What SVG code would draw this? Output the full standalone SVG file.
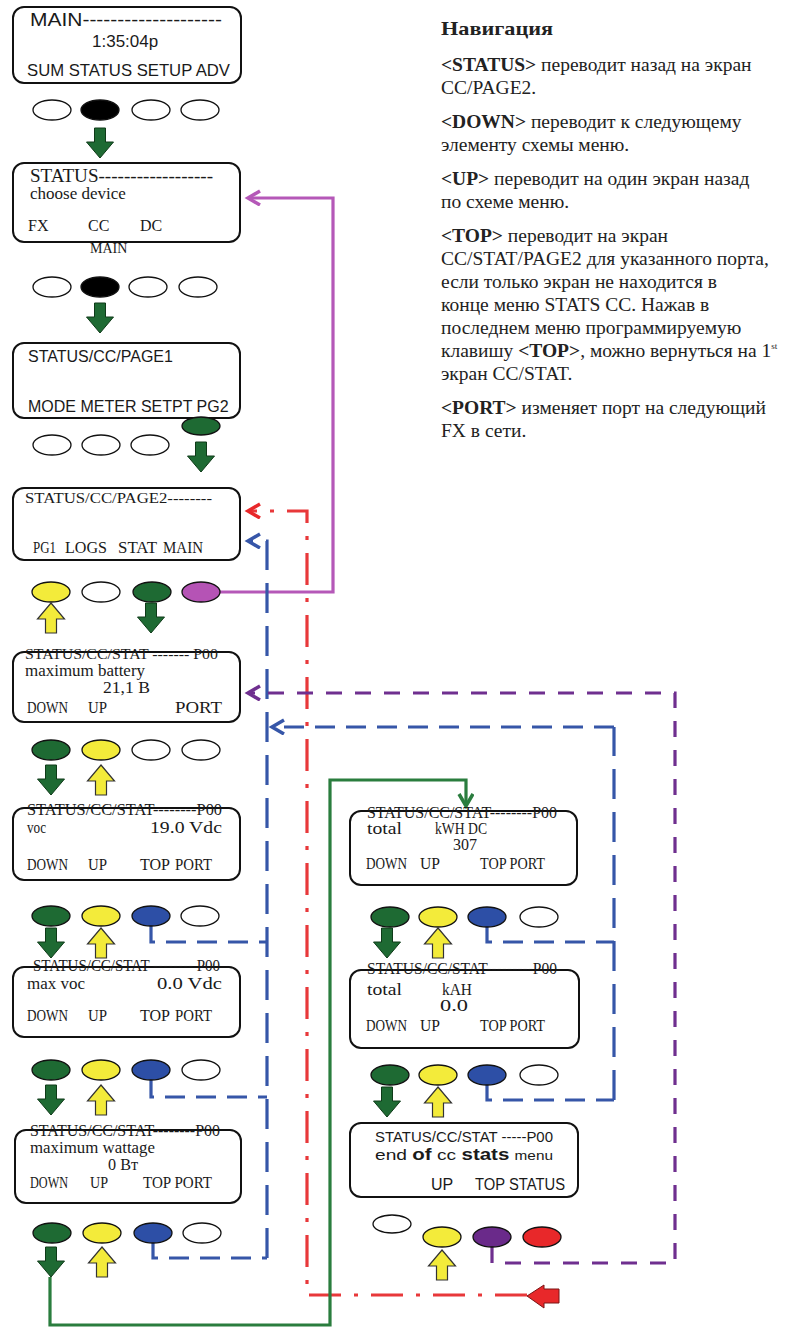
<svg xmlns="http://www.w3.org/2000/svg" xmlns:xlink="http://www.w3.org/1999/xlink" width="788" height="1332" viewBox="0 0 788 1332">
<style>
.box{fill:#fff;stroke:#111;stroke-width:2}
.sans{font-family:"Liberation Sans",Arial,sans-serif;fill:#1a1a1a}
.serif{font-family:"Liberation Serif","Times New Roman",serif;fill:#1a1a1a}
.k{stroke:#111;stroke-width:1.3}
.kw{fill:#fff}
.kb{fill:#000}
.kg{fill:#1e6a33}
.ky{fill:#f3eb3a}
.kbl{fill:#2d4fa6}
.kp{fill:#b553b5}
.kv{fill:#6a2a8a}
.kr{fill:#e8282a}
.ag{fill:#1e6a33;stroke:#0e3a18;stroke-width:1}
.ay{fill:#f3eb3a;stroke:#333;stroke-width:1.2}
.c{fill:none;stroke-width:3.2}
.c-pink{stroke:#b558b8}
.c-red{stroke:#e8383a;stroke-dasharray:32 13 4 13}
.c-blue{stroke:#3656a8;stroke-dasharray:20 11}
.c-bluev{stroke:#3656a8;stroke-dasharray:30 13}
.c-purple{stroke:#6f2f8f;stroke-dasharray:16 13}
.c-green{stroke:#2a7d3e}
.nav{font-family:"Liberation Serif","Times New Roman",serif;font-size:19.5px;fill:#222}
.b{font-weight:bold}
</style>
<defs>
<path id="dn" d="M-5.5,0 H5.5 V14 H13.5 L0,30 L-13.5,14 H-5.5 Z"/>
<path id="up" d="M0,0 L13.5,16 H5.5 V30 H-5.5 V16 H-13.5 Z"/>
<marker id="m-pink" markerUnits="userSpaceOnUse" markerWidth="20" markerHeight="20" refX="13" refY="8" orient="auto"><path d="M1,1 L13,8 L1,15" fill="none" stroke="#b558b8" stroke-width="3.5"/></marker>
<marker id="m-red" markerUnits="userSpaceOnUse" markerWidth="20" markerHeight="20" refX="13" refY="8" orient="auto"><path d="M1,1 L13,8 L1,15" fill="none" stroke="#e8282a" stroke-width="3.5"/></marker>
<marker id="m-blue" markerUnits="userSpaceOnUse" markerWidth="20" markerHeight="20" refX="13" refY="8" orient="auto"><path d="M1,1 L13,8 L1,15" fill="none" stroke="#3656a8" stroke-width="3.5"/></marker>
<marker id="m-purple" markerUnits="userSpaceOnUse" markerWidth="20" markerHeight="20" refX="13" refY="8" orient="auto"><path d="M1,1 L13,8 L1,15" fill="none" stroke="#6f2f8f" stroke-width="3.5"/></marker>
<marker id="m-green" markerUnits="userSpaceOnUse" markerWidth="20" markerHeight="20" refX="13" refY="8" orient="auto"><path d="M1,1 L13,8 L1,15" fill="none" stroke="#2a7d3e" stroke-width="3.5"/></marker>
</defs>
<rect width="788" height="1332" fill="#fff"/>

<g id="connectors">
<path class="c c-pink" d="M220,592 H333 V198 H248" marker-end="url(#m-pink)"/>
<path class="c c-red" d="M527,1295 H307 V511 H248" marker-end="url(#m-red)"/>
<polygon points="527,1296 544,1285 544,1289 559,1289 559,1303 544,1303 544,1308" fill="#e8282a" stroke="#7a1414" stroke-width="1"/>
<path class="c c-bluev" d="M267,1258 V541 H248" marker-end="url(#m-blue)"/>
<path class="c c-blue" d="M153,1243 V1258 H267"/>
<path class="c c-blue" d="M151,926 V942 H267"/>
<path class="c c-blue" d="M151,1080 V1097 H267"/>
<path class="c c-blue" d="M487,1085 V1100 H614"/>
<path class="c c-bluev" d="M614,1100 V727"/>
<path class="c c-blue" d="M614,727 H272" marker-end="url(#m-blue)"/>
<path class="c c-blue" d="M487,927 V942 H614"/>
<path class="c c-purple" d="M492,1247 V1263 H675 V693 H248" marker-end="url(#m-purple)"/>
<path class="c c-green" d="M50,1277 V1325 H330 V780 H466 V806" marker-end="url(#m-green)"/>
</g>

<g id="scr-main">
<rect class="box" x="13" y="7" width="228" height="76" rx="11"/>
<text class="sans" x="30" y="26" font-size="19" textLength="192" lengthAdjust="spacingAndGlyphs">MAIN--------------------</text>
<text class="sans" x="92" y="47" font-size="17">1:35:04p</text>
<text class="sans" x="27" y="76" font-size="17" textLength="203" lengthAdjust="spacingAndGlyphs">SUM STATUS SETUP ADV</text>
</g>
<g id="keys-main">
<ellipse class="k kw" cx="52" cy="110" rx="19" ry="10"/>
<ellipse class="k kb" cx="100" cy="110" rx="19" ry="10"/>
<ellipse class="k kw" cx="151" cy="110" rx="19" ry="10"/>
<ellipse class="k kw" cx="200" cy="110" rx="19" ry="10"/>
<use href="#dn" x="100" y="128" class="ag"/>
</g>

<g id="scr-status">
<rect class="box" x="13" y="163" width="227" height="79" rx="11"/>
<text class="serif" x="30" y="182" font-size="19" textLength="183" lengthAdjust="spacingAndGlyphs">STATUS------------------</text>
<text class="serif" x="30" y="199" font-size="17">choose device</text>
<text class="serif" x="28" y="231" font-size="16">FX</text>
<text class="serif" x="88" y="231" font-size="16">CC</text>
<text class="serif" x="140" y="231" font-size="16">DC</text>
<text class="serif" x="90" y="253" font-size="14">MAIN</text>
</g>
<g id="keys-status">
<ellipse class="k kw" cx="52" cy="287" rx="19" ry="10"/>
<ellipse class="k kb" cx="100" cy="287" rx="19" ry="10"/>
<ellipse class="k kw" cx="148" cy="287" rx="19" ry="10"/>
<ellipse class="k kw" cx="198" cy="287" rx="19" ry="10"/>
<use href="#dn" x="100" y="303" class="ag"/>
</g>

<g id="scr-page1">
<rect class="box" x="13" y="343" width="227" height="75" rx="11"/>
<text class="sans" x="28" y="362" font-size="16">STATUS/CC/PAGE1</text>
<text class="sans" x="28" y="412" font-size="16">MODE METER SETPT PG2</text>
</g>
<g id="keys-page1">
<ellipse class="k kg" cx="201" cy="426" rx="19" ry="9"/>
<ellipse class="k kw" cx="52" cy="445" rx="19" ry="10"/>
<ellipse class="k kw" cx="101" cy="445" rx="19" ry="10"/>
<ellipse class="k kw" cx="150" cy="445" rx="19" ry="10"/>
<use href="#dn" x="201" y="442" class="ag"/>
</g>

<g id="scr-page2">
<rect class="box" x="13" y="488" width="227" height="72" rx="11"/>
<text class="serif" x="25" y="503" font-size="15" textLength="187" lengthAdjust="spacingAndGlyphs">STATUS/CC/PAGE2--------</text>
<text class="serif" x="33" y="553" font-size="17" textLength="23" lengthAdjust="spacingAndGlyphs">PG1</text>
<text class="serif" x="65" y="553" font-size="17" textLength="42" lengthAdjust="spacingAndGlyphs">LOGS</text>
<text class="serif" x="118" y="553" font-size="17" textLength="39" lengthAdjust="spacingAndGlyphs">STAT</text>
<text class="serif" x="163" y="553" font-size="17" textLength="40" lengthAdjust="spacingAndGlyphs">MAIN</text>
</g>
<g id="keys-page2">
<ellipse class="k ky" cx="51" cy="592" rx="19" ry="10"/>
<ellipse class="k kw" cx="101" cy="592" rx="19" ry="10"/>
<ellipse class="k kg" cx="152" cy="592" rx="19" ry="10"/>
<ellipse class="k kp" cx="201" cy="592" rx="19" ry="10"/>
<use href="#up" x="51" y="603" class="ay"/>
<use href="#dn" x="151" y="603" class="ag"/>
</g>

<g id="scr-maxbat">
<rect class="box" x="13" y="652" width="227" height="70" rx="11"/>
<text class="serif" x="25" y="659" font-size="15" textLength="193" lengthAdjust="spacingAndGlyphs">STATUS/CC/STAT ------- P00</text>
<text class="serif" x="25" y="676" font-size="17" textLength="120" lengthAdjust="spacingAndGlyphs">maximum battery</text>
<text class="serif" x="103" y="693" font-size="17" textLength="47" lengthAdjust="spacingAndGlyphs">21,1 В</text>
<text class="serif" x="27" y="713" font-size="17" textLength="41" lengthAdjust="spacingAndGlyphs">DOWN</text>
<text class="serif" x="88" y="713" font-size="17" textLength="19" lengthAdjust="spacingAndGlyphs">UP</text>
<text class="serif" x="175" y="713" font-size="17" textLength="47" lengthAdjust="spacingAndGlyphs">PORT</text>
</g>
<g id="keys-maxbat">
<ellipse class="k kg" cx="51" cy="750" rx="19" ry="10"/>
<ellipse class="k ky" cx="101" cy="750" rx="19" ry="10"/>
<ellipse class="k kw" cx="151" cy="750" rx="19" ry="10"/>
<ellipse class="k kw" cx="201" cy="750" rx="19" ry="10"/>
<use href="#dn" x="51" y="765" class="ag"/>
<use href="#up" x="101" y="765" class="ay"/>
</g>

<g id="scr-voc">
<rect class="box" x="13" y="808" width="227" height="72" rx="11"/>
<text class="serif" x="27" y="815" font-size="16" textLength="195" lengthAdjust="spacingAndGlyphs">STATUS/CC/STAT--------P00</text>
<text class="serif" x="27" y="833" font-size="17" textLength="19" lengthAdjust="spacingAndGlyphs">voc</text>
<text class="serif" x="150" y="833" font-size="17" textLength="72" lengthAdjust="spacingAndGlyphs">19.0  Vdc</text>
<text class="serif" x="27" y="870" font-size="17" textLength="41" lengthAdjust="spacingAndGlyphs">DOWN</text>
<text class="serif" x="88" y="870" font-size="17" textLength="19" lengthAdjust="spacingAndGlyphs">UP</text>
<text class="serif" x="140" y="870" font-size="17" textLength="30" lengthAdjust="spacingAndGlyphs">TOP</text>
<text class="serif" x="175" y="870" font-size="17" textLength="37" lengthAdjust="spacingAndGlyphs">PORT</text>
</g>
<g id="keys-voc">
<ellipse class="k kg" cx="51" cy="916" rx="19" ry="10"/>
<ellipse class="k ky" cx="101" cy="916" rx="19" ry="10"/>
<ellipse class="k kbl" cx="151" cy="916" rx="19" ry="10"/>
<ellipse class="k kw" cx="200" cy="916" rx="19" ry="10"/>
<use href="#dn" x="51" y="928" class="ag"/>
<use href="#up" x="101" y="928" class="ay"/>
</g>

<g id="scr-maxvoc">
<rect class="box" x="13" y="967" width="227" height="70" rx="11"/>
<text class="serif" x="33" y="971" font-size="16" textLength="187" lengthAdjust="spacingAndGlyphs">STATUS/CC/STAT -------- P00</text>
<text class="serif" x="27" y="989" font-size="17" textLength="58" lengthAdjust="spacingAndGlyphs">max voc</text>
<text class="serif" x="157" y="989" font-size="17" textLength="65" lengthAdjust="spacingAndGlyphs">0.0  Vdc</text>
<text class="serif" x="27" y="1021" font-size="17" textLength="41" lengthAdjust="spacingAndGlyphs">DOWN</text>
<text class="serif" x="88" y="1021" font-size="17" textLength="19" lengthAdjust="spacingAndGlyphs">UP</text>
<text class="serif" x="140" y="1021" font-size="17" textLength="30" lengthAdjust="spacingAndGlyphs">TOP</text>
<text class="serif" x="175" y="1021" font-size="17" textLength="37" lengthAdjust="spacingAndGlyphs">PORT</text>
</g>
<g id="keys-maxvoc">
<ellipse class="k kg" cx="51" cy="1070" rx="19" ry="10"/>
<ellipse class="k ky" cx="101" cy="1070" rx="19" ry="10"/>
<ellipse class="k kbl" cx="151" cy="1070" rx="19" ry="10"/>
<ellipse class="k kw" cx="201" cy="1070" rx="19" ry="10"/>
<use href="#dn" x="51" y="1085" class="ag"/>
<use href="#up" x="101" y="1085" class="ay"/>
</g>

<g id="scr-maxwatt">
<rect class="box" x="15" y="1130" width="226" height="73" rx="11"/>
<text class="serif" x="30" y="1136" font-size="16" textLength="190" lengthAdjust="spacingAndGlyphs">STATUS/CC/STAT--------P00</text>
<text class="serif" x="30" y="1153" font-size="17" textLength="125" lengthAdjust="spacingAndGlyphs">maximum wattage</text>
<text class="serif" x="108" y="1170" font-size="17" textLength="30" lengthAdjust="spacingAndGlyphs">0 Вт</text>
<text class="serif" x="30" y="1188" font-size="17" textLength="38" lengthAdjust="spacingAndGlyphs">DOWN</text>
<text class="serif" x="90" y="1188" font-size="17" textLength="18" lengthAdjust="spacingAndGlyphs">UP</text>
<text class="serif" x="143" y="1188" font-size="17" textLength="69" lengthAdjust="spacingAndGlyphs">TOP PORT</text>
</g>
<g id="keys-maxwatt">
<ellipse class="k kg" cx="52" cy="1233" rx="19" ry="10"/>
<ellipse class="k ky" cx="102" cy="1233" rx="19" ry="10"/>
<ellipse class="k kbl" cx="153" cy="1233" rx="19" ry="10"/>
<ellipse class="k kw" cx="202" cy="1233" rx="19" ry="10"/>
<use href="#dn" x="51" y="1247" class="ag"/>
<use href="#up" x="102" y="1247" class="ay"/>
</g>

<g id="scr-kwh">
<rect class="box" x="350" y="811" width="227" height="74" rx="11"/>
<text class="serif" x="367" y="818" font-size="16" textLength="190" lengthAdjust="spacingAndGlyphs">STATUS/CC/STAT--------P00</text>
<text class="serif" x="367" y="834" font-size="17" textLength="35" lengthAdjust="spacingAndGlyphs">total</text>
<text class="serif" x="435" y="834" font-size="16" textLength="52" lengthAdjust="spacingAndGlyphs">kWH DC</text>
<text class="serif" x="453" y="850" font-size="16" textLength="24" lengthAdjust="spacingAndGlyphs">307</text>
<text class="serif" x="366" y="869" font-size="17" textLength="41" lengthAdjust="spacingAndGlyphs">DOWN</text>
<text class="serif" x="420" y="869" font-size="17" textLength="20" lengthAdjust="spacingAndGlyphs">UP</text>
<text class="serif" x="480" y="869" font-size="17" textLength="65" lengthAdjust="spacingAndGlyphs">TOP PORT</text>
</g>
<g id="keys-kwh">
<ellipse class="k kg" cx="390" cy="917" rx="19" ry="10"/>
<ellipse class="k ky" cx="438" cy="917" rx="19" ry="10"/>
<ellipse class="k kbl" cx="487" cy="917" rx="19" ry="10"/>
<ellipse class="k kw" cx="539" cy="917" rx="19" ry="10"/>
<use href="#dn" x="387" y="928" class="ag"/>
<use href="#up" x="438" y="928" class="ay"/>
</g>

<g id="scr-kah">
<rect class="box" x="350" y="970" width="229" height="78" rx="11"/>
<text class="serif" x="367" y="974" font-size="16" textLength="190" lengthAdjust="spacingAndGlyphs">STATUS/CC/STAT---------P00</text>
<text class="serif" x="367" y="995" font-size="17" textLength="35" lengthAdjust="spacingAndGlyphs">total</text>
<text class="serif" x="442" y="995" font-size="16" textLength="30" lengthAdjust="spacingAndGlyphs">kAH</text>
<text class="serif" x="440" y="1011" font-size="17" textLength="28" lengthAdjust="spacingAndGlyphs">0.0</text>
<text class="serif" x="366" y="1031" font-size="17" textLength="41" lengthAdjust="spacingAndGlyphs">DOWN</text>
<text class="serif" x="420" y="1031" font-size="17" textLength="20" lengthAdjust="spacingAndGlyphs">UP</text>
<text class="serif" x="480" y="1031" font-size="17" textLength="65" lengthAdjust="spacingAndGlyphs">TOP PORT</text>
</g>
<g id="keys-kah">
<ellipse class="k kg" cx="390" cy="1075" rx="19" ry="10"/>
<ellipse class="k ky" cx="438" cy="1075" rx="19" ry="10"/>
<ellipse class="k kbl" cx="487" cy="1075" rx="19" ry="10"/>
<ellipse class="k kw" cx="539" cy="1075" rx="19" ry="10"/>
<use href="#dn" x="387" y="1087" class="ag"/>
<use href="#up" x="438" y="1087" class="ay"/>
</g>

<g id="scr-end">
<rect class="box" x="350" y="1123" width="228" height="74" rx="11"/>
<text class="sans" x="375" y="1142" font-size="15" textLength="178" lengthAdjust="spacingAndGlyphs">STATUS/CC/STAT -----P00</text>
<text class="sans" x="375" y="1160" font-size="15" textLength="178" lengthAdjust="spacingAndGlyphs">end <tspan font-weight="bold" font-size="16">of</tspan> cc <tspan font-weight="bold" font-size="16">stats</tspan> <tspan font-size="12">menu</tspan></text>
<text class="sans" x="431" y="1190" font-size="16">UP</text>
<text class="sans" x="475" y="1190" font-size="16" textLength="90" lengthAdjust="spacingAndGlyphs">TOP STATUS</text>
</g>
<g id="keys-end">
<ellipse class="k kw" cx="392" cy="1224" rx="19" ry="9"/>
<ellipse class="k ky" cx="442" cy="1237" rx="19" ry="10"/>
<ellipse class="k kv" cx="492" cy="1237" rx="19" ry="10"/>
<ellipse class="k kr" cx="542" cy="1237" rx="19" ry="10"/>
<use href="#up" x="442" y="1250" class="ay"/>
</g>

<g id="navigation-text">
<text class="nav b" x="441" y="35" font-size="22" textLength="112" lengthAdjust="spacingAndGlyphs">Навигация</text>
<text class="nav" x="441" y="71"><tspan class="b">&lt;STATUS&gt;</tspan> переводит назад на экран</text>
<text class="nav" x="441" y="94">CC/PAGE2.</text>
<text class="nav" x="441" y="128"><tspan class="b">&lt;DOWN&gt;</tspan> переводит к следующему</text>
<text class="nav" x="441" y="151">элементу схемы меню.</text>
<text class="nav" x="441" y="185"><tspan class="b">&lt;UP&gt;</tspan> переводит на один экран назад</text>
<text class="nav" x="441" y="208">по схеме меню.</text>
<text class="nav" x="441" y="242"><tspan class="b">&lt;TOP&gt;</tspan> переводит на экран</text>
<text class="nav" x="441" y="265">CC/STAT/PAGE2 для указанного порта,</text>
<text class="nav" x="441" y="288">если только экран не  находится  в</text>
<text class="nav" x="441" y="311">конце меню STATS CC. Нажав в</text>
<text class="nav" x="441" y="334">последнем меню программируемую</text>
<text class="nav" x="441" y="357">клавишу <tspan class="b">&lt;TOP&gt;</tspan>, можно вернуться на 1<tspan font-size="9" dy="-8">st</tspan></text>
<text class="nav" x="441" y="380">экран CC/STAT.</text>
<text class="nav" x="441" y="414"><tspan class="b">&lt;PORT&gt;</tspan> изменяет порт на следующий</text>
<text class="nav" x="441" y="437">FX в сети.</text>
</g>
</svg>
